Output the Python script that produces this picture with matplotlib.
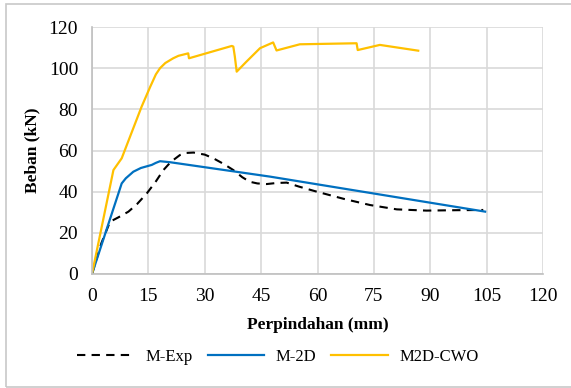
import matplotlib.pyplot as plt
from matplotlib.patches import Rectangle

# M-Exp (experimental)
exp_x = [0, 2.5, 4.8, 7, 9.7, 12, 14.6, 17, 19, 21, 23.4, 25, 27, 30, 32.3, 35, 37.6, 40, 42,
         44, 46.5, 49, 51.8, 55, 59.8, 67, 74, 81.1, 89, 97, 104.1]
exp_y = [0, 15, 25.4, 27.5, 30.3, 34, 39.2, 45, 50.5, 54.5, 57.8, 58.8, 59, 58, 56.2, 53.5, 50.5, 47, 44.8,
         44, 43.7, 44.2, 44.4, 42.5, 40, 36.5, 33.5, 31.4, 30.8, 31, 31.1]

# M-2D
m2d_x = [0, 7.9, 9, 11, 13, 15.9, 17, 18.1, 20.8, 47.4, 104.6]
m2d_y = [0, 44, 46.5, 49.7, 51.5, 53, 54, 54.8, 54.3, 47.3, 30.3]

# M2D-CWO
cwo_x = [0, 5.7, 7.9, 13.2, 15.5, 17, 18.1, 19.5, 21.6, 23, 25.6, 25.8, 37.2, 37.6, 38.0, 38.5,
         41, 44.7, 48.2, 49.1, 55.3, 70.4, 70.7, 76.6, 86.8]
cwo_y = [0, 50.5, 56.2, 81.3, 91, 97, 100, 102.5, 104.8, 106, 107.2, 104.8, 110.8, 110.5, 105.7, 98.3,
         103, 109.7, 112.5, 108.6, 111.6, 112.1, 108.8, 111.3, 108.5]

plt.rcParams['font.family'] = ['Liberation Serif', 'DejaVu Serif']

fig = plt.figure(figsize=(5.71, 3.88), dpi=100)
ax = fig.add_axes([92 / 571, 1 - 274 / 388, 451 / 571, 247 / 388])

ax.plot(exp_x, exp_y, color='black', lw=1.5, ls=(0, (4, 3)), label='M-Exp')
ax.plot(m2d_x, m2d_y, color='#0070C0', lw=1.6, label='M-2D')
ax.plot(cwo_x, cwo_y, color='#FFC000', lw=1.6, label='M2D-CWO')

ax.set_xlim(0, 120)
ax.set_ylim(0, 120)
ax.set_xticks(range(0, 121, 15))
ax.set_yticks(range(0, 121, 20))
ax.grid(True, color='#d9d9d9', lw=1.2)
ax.set_axisbelow(True)
for s in ['top', 'right']:
    ax.spines[s].set_visible(False)
for s in ['left', 'bottom']:
    ax.spines[s].set_color('#bfbfbf')
    ax.spines[s].set_linewidth(1.2)
ax.tick_params(axis='x', length=0, labelsize=14, pad=10)
ax.tick_params(axis='y', length=0, labelsize=14, pad=10)

ax.set_xlabel('Perpindahan (mm)', fontsize=12.5, fontweight='bold', labelpad=9)
ax.set_ylabel('Beban (kN)', fontsize=12.5, fontweight='bold', labelpad=6)

ax.legend(loc='center', bbox_to_anchor=(278 / 571, 1 - 357 / 388), bbox_transform=fig.transFigure,
          ncol=3, frameon=False, fontsize=12, handlelength=3.4, handletextpad=0.7, columnspacing=0.9)

fig.patches.append(Rectangle((6 / 571, 1.3 / 388), 600 / 571, 382.7 / 388, transform=fig.transFigure,
                             fill=False, edgecolor='#c8c8c8', lw=1.2))

fig.savefig('out.png', dpi=100)
